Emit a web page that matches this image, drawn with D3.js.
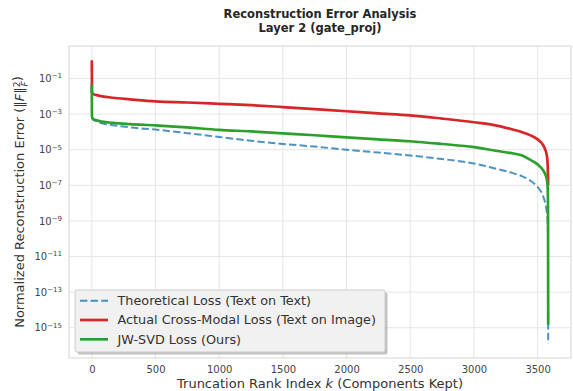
<!DOCTYPE html>
<html>
<head>
<meta charset="utf-8">
<script src="https://cdn.jsdelivr.net/npm/d3@7"></script>
<style>
    html, body { margin: 0; padding: 0; background: #fff; }
    svg { display: block; font-family: 'DejaVu Sans', sans-serif; }
</style>
</head>
<body>
<div id="chart"></div>
<script>
'use strict';

var ranks = [0, 1, 3, 10, 30, 80, 165, 300, 500, 750, 1000, 1250, 1500, 1750, 2000, 2250,
    2500, 2750, 3000, 3150, 3283, 3380, 3440, 3500, 3540, 3560, 3572, 3578, 3581, 3582, 3583];

var theoretical = [4.6e-2, 7.9e-4, 6.3e-4, 5.0e-4, 4.2e-4, 3.0e-4, 2.4e-4, 1.8e-4, 1.35e-4, 8.5e-5,
    5.2e-5, 3.2e-5, 2.1e-5, 1.5e-5, 1.0e-5, 6.9e-6, 4.7e-6, 3.0e-6, 1.7e-6, 9.5e-7, 5.4e-7,
    3.2e-7, 1.9e-7, 7.9e-8, 2.8e-8, 1.0e-8, 3.2e-9, 1.0e-9, 2.5e-10, 1.0e-11, 1.25e-16];

var crossModal = [1.07, 1.8e-2, 1.5e-2, 1.35e-2, 1.2e-2, 1.0e-2, 8.3e-3, 6.8e-3, 5.2e-3, 4.5e-3,
    3.8e-3, 3.2e-3, 2.5e-3, 1.9e-3, 1.45e-3, 1.1e-3, 8.5e-4, 5.6e-4, 3.5e-4, 2.5e-4, 1.5e-4,
    9.5e-5, 6.6e-5, 3.8e-5, 2.0e-5, 1.0e-5, 5.0e-6, 2.0e-6, 5.0e-7, 2.5e-7, 1.0e-7];

var jwsvd = [4.6e-2, 7.9e-4, 6.3e-4, 5.4e-4, 4.6e-4, 3.8e-4, 3.2e-4, 2.75e-4, 2.35e-4, 1.8e-4,
    1.3e-4, 1.07e-4, 8.3e-5, 6.5e-5, 4.9e-5, 3.8e-5, 3.0e-5, 2.1e-5, 1.4e-5, 9.3e-6, 6.6e-6,
    4.7e-6, 2.8e-6, 1.5e-6, 7.6e-7, 4.2e-7, 2.2e-7, 1.0e-7, 2.5e-8, 1.0e-9, 1.45e-15];

var xTicks = [0, 500, 1000, 1500, 2000, 2500, 3000, 3500];
var yTickExps = [-1, -3, -5, -7, -9, -11, -13, -15];

var series = [
    {name: 'Theoretical Loss (Text on Text)', values: theoretical, color: '#1f77b4', opacity: 0.8, width: 2, dash: '7.4,3.2'},
    {name: 'Actual Cross-Modal Loss (Text on Image)', values: crossModal, color: '#d62728', opacity: 1, width: 2.7, dash: null},
    {name: 'JW-SVD Loss (Ours)', values: jwsvd, color: '#2ca02c', opacity: 1, width: 2.7, dash: null}
];

var W = 573, H = 391;
var plot = {left: 69, right: 571, top: 46, bottom: 358};

var svg = d3.select('#chart').append('svg')
    .attr('width', W)
    .attr('height', H);

// matplotlib-like 5% margins
var kMax = d3.max(ranks);
var x = d3.scaleLinear()
    .domain([-0.05 * kMax, kMax * 1.05])
    .range([plot.left, plot.right]);

var allVals = [].concat(theoretical, crossModal, jwsvd);
var lo = Math.log10(d3.min(allVals)), hi = Math.log10(d3.max(allVals));
var pad = (hi - lo) * 0.05;
var y = d3.scaleLog()
    .domain([Math.pow(10, lo - pad), Math.pow(10, hi + pad)])
    .range([plot.bottom, plot.top]);

// grid
svg.append('g').selectAll('line.vx')
    .data(xTicks)
    .enter().append('line')
    .attr('x1', function(d) { return x(d); })
    .attr('x2', function(d) { return x(d); })
    .attr('y1', plot.top)
    .attr('y2', plot.bottom)
    .style('stroke', '#e5e5e5')
    .style('stroke-width', 1);

svg.append('g').selectAll('line.hy')
    .data(yTickExps)
    .enter().append('line')
    .attr('x1', plot.left)
    .attr('x2', plot.right)
    .attr('y1', function(d) { return y(Math.pow(10, d)); })
    .attr('y2', function(d) { return y(Math.pow(10, d)); })
    .style('stroke', '#e5e5e5')
    .style('stroke-width', 1);

// frame
svg.append('rect')
    .attr('x', plot.left)
    .attr('y', plot.top)
    .attr('width', plot.right - plot.left)
    .attr('height', plot.bottom - plot.top)
    .style('fill', 'none')
    .style('stroke', '#d4d4d4')
    .style('stroke-width', 1);

// x axis (no tick marks, labels only)
var xAxis = d3.axisBottom(x).tickValues(xTicks).tickFormat(d3.format('d')).tickSize(0).tickPadding(8);
var gx = svg.append('g')
    .attr('transform', 'translate(0,' + plot.bottom + ')')
    .call(xAxis);
gx.select('.domain').remove();
gx.selectAll('text')
    .style('font-size', '10px')
    .style('fill', '#444')
    .style('font-family', 'DejaVu Sans, sans-serif');

// y axis with 10^n labels
var yAxis = d3.axisLeft(y)
    .tickValues(yTickExps.map(function(e) { return Math.pow(10, e); }))
    .tickSize(0)
    .tickPadding(7)
    .tickFormat(function() { return ''; });
var gy = svg.append('g')
    .attr('transform', 'translate(' + plot.left + ',0)')
    .call(yAxis);
gy.select('.domain').remove();
gy.selectAll('.tick text').each(function(d) {
    var t = d3.select(this)
        .attr('dy', '0.32em')
        .style('font-size', '10px')
        .style('fill', '#444')
        .style('font-family', 'DejaVu Sans, sans-serif');
    t.append('tspan').text('10');
    t.append('tspan')
        .attr('dy', '-0.55em')
        .style('font-size', '7px')
        .text('\u2212' + Math.abs(Math.round(Math.log10(d))));
});

// curves
var line = d3.line()
    .x(function(d) { return x(d.k); })
    .y(function(d) { return y(d.v); })
    .curve(d3.curveMonotoneX);

var clip = svg.append('clipPath').attr('id', 'plotClip');
clip.append('rect')
    .attr('x', plot.left)
    .attr('y', plot.top)
    .attr('width', plot.right - plot.left)
    .attr('height', plot.bottom - plot.top);

svg.append('g')
    .attr('clip-path', 'url(#plotClip)')
    .selectAll('path')
    .data(series)
    .enter().append('path')
    .attr('d', function(s) {
        return line(ranks.map(function(k, i) { return {k: k, v: s.values[i]}; }));
    })
    .style('fill', 'none')
    .style('stroke', function(s) { return s.color; })
    .style('stroke-opacity', function(s) { return s.opacity; })
    .style('stroke-width', function(s) { return s.width; })
    .style('stroke-dasharray', function(s) { return s.dash; })
    .style('stroke-linejoin', 'round');

// titles and labels
svg.append('text')
    .attr('x', (plot.left + plot.right) / 2)
    .attr('y', 18)
    .attr('text-anchor', 'middle')
    .style('font-size', '11.5px')
    .style('font-weight', 'bold')
    .style('fill', '#262626')
    .text('Reconstruction Error Analysis');
svg.append('text')
    .attr('x', (plot.left + plot.right) / 2)
    .attr('y', 32)
    .attr('text-anchor', 'middle')
    .style('font-size', '11.5px')
    .style('font-weight', 'bold')
    .style('fill', '#262626')
    .text('Layer 2 (gate_proj)');

var xl = svg.append('text')
    .attr('x', (plot.left + plot.right) / 2)
    .attr('y', 388)
    .attr('text-anchor', 'middle')
    .style('font-size', '13px')
    .style('fill', '#333');
xl.append('tspan').text('Truncation Rank Index ');
xl.append('tspan').style('font-style', 'italic').text('k');
xl.append('tspan').text(' (Components Kept)');

var yl = svg.append('text')
    .attr('transform', 'translate(24,' + ((plot.top + plot.bottom) / 2) + ') rotate(-90)')
    .attr('text-anchor', 'middle')
    .style('font-size', '13px')
    .style('fill', '#333');
yl.append('tspan').text('Normalized Reconstruction Error (\u2016');
yl.append('tspan').style('font-style', 'italic').text('F');
yl.append('tspan').text('\u2016');
yl.append('tspan').attr('dy', '-0.45em').style('font-size', '9px').text('2');
yl.append('tspan').attr('dx', '-0.55em').attr('dy', '0.85em').style('font-size', '9px').style('font-style', 'italic').text('F');
yl.append('tspan').attr('dy', '-0.4em').text(')');

// legend
var leg = {x: 75, y: 290, w: 310, h: 62};
svg.append('rect')
    .attr('x', leg.x + 2.5)
    .attr('y', leg.y + 2.5)
    .attr('width', leg.w)
    .attr('height', leg.h)
    .attr('rx', 2)
    .style('fill', '#999')
    .style('fill-opacity', 0.6);
svg.append('rect')
    .attr('x', leg.x)
    .attr('y', leg.y)
    .attr('width', leg.w)
    .attr('height', leg.h)
    .attr('rx', 2)
    .style('fill', '#f1f1f1')
    .style('stroke', '#cccccc')
    .style('stroke-width', 1);

var items = svg.selectAll('g.legend')
    .data(series)
    .enter().append('g')
    .attr('transform', function(d, i) { return 'translate(' + leg.x + ',' + (leg.y + 10.7 + i * 19.3) + ')'; });

items.append('line')
    .attr('x1', 5)
    .attr('x2', 33)
    .style('stroke', function(s) { return s.color; })
    .style('stroke-opacity', function(s) { return s.opacity; })
    .style('stroke-width', function(s) { return s.width; })
    .style('stroke-dasharray', function(s) { return s.dash; });

items.append('text')
    .attr('x', 42.5)
    .attr('dy', '0.35em')
    .style('font-size', '12.8px')
    .style('fill', '#333')
    .text(function(s) { return s.name; });
</script>
</body>
</html>
